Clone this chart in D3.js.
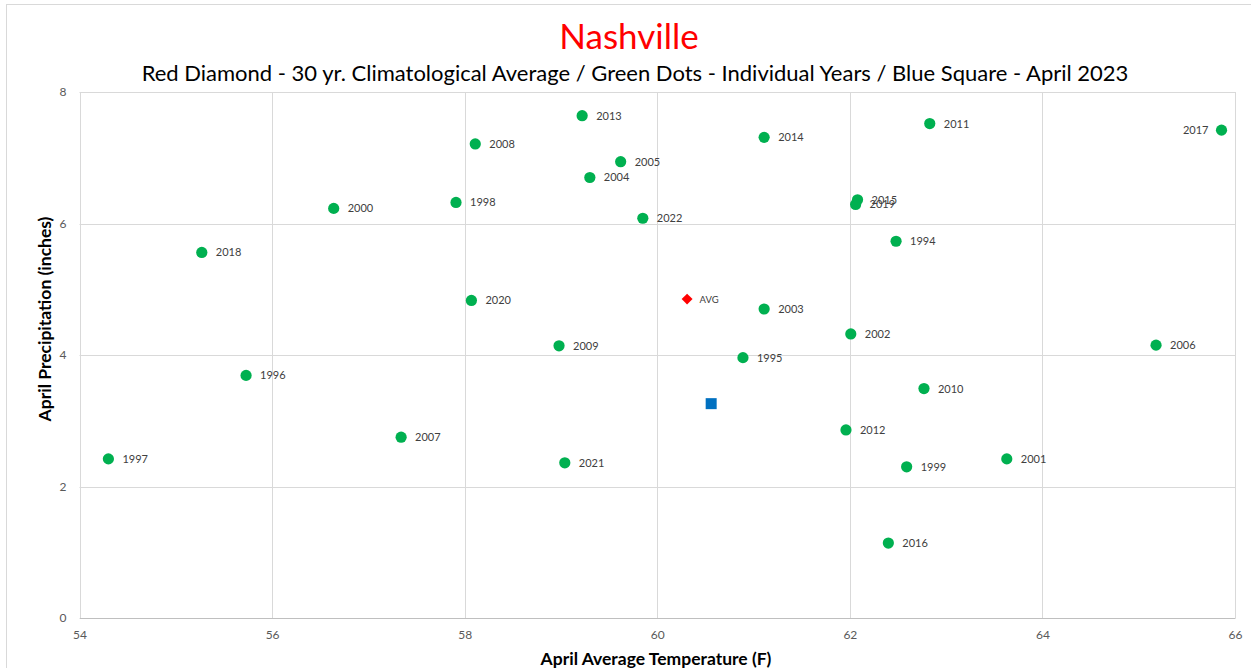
<!DOCTYPE html>
<html><head><meta charset="utf-8">
<script src="https://cdn.jsdelivr.net/npm/d3@7"></script>
<style>
html,body{margin:0;padding:0;background:#fff;}
svg{display:block;font-family:Lato,"Open Sans",sans-serif;}
</style></head>
<body><svg id="c" width="1251" height="668"></svg>
<script>
const years = [1994,1995,1996,1997,1998,1999,2000,2001,2002,2003,2004,2005,2006,2007,2008,2009,2010,2011,2012,2013,2014,2015,2016,2017,2018,2019,2020,2021,2022];
const temps = [62.48,60.89,55.73,54.30,57.91,62.59,56.64,63.63,62.01,61.11,59.30,59.62,65.18,57.34,58.11,58.98,62.77,62.83,61.96,59.22,61.11,62.08,62.40,65.86,55.27,62.06,58.07,59.04,59.85];
const precip = [5.73,3.96,3.69,2.42,6.32,2.30,6.23,2.42,4.32,4.70,6.70,6.94,4.15,2.75,7.21,4.14,3.49,7.52,2.86,7.64,7.31,6.36,1.14,7.42,5.56,6.29,4.83,2.36,6.08];
const avgPoint = {label:"AVG", temp:60.31, precip:4.85};
const currentPoint = {label:"April 2023", temp:60.56, precip:3.26};
const xTicks = [54,56,58,60,62,64,66];
const yTicks = [0,2,4,6,8];
const leftLabelYears = [2017];

const svg = d3.select("#c");
const L=79.5, R=1235, T=92, B=618;
const x = d3.scaleLinear().domain([54,66]).range([L,R]);
const y = d3.scaleLinear().domain([0,8]).range([B,T]);

// outer border
svg.append("rect").attr("x",6.5).attr("y",4.5).attr("width",1260).attr("height",700)
  .attr("fill","none").attr("stroke","#d9d9d9").attr("stroke-width",1);

// gridlines
const g = svg.append("g");
g.selectAll("line.vx").data(xTicks).join("line")
  .attr("x1",d=>Math.round(x(d))+0.5).attr("x2",d=>Math.round(x(d))+0.5)
  .attr("y1",T).attr("y2",B).attr("stroke","#d9d9d9").attr("stroke-width",1);
g.selectAll("line.hy").data(yTicks).join("line")
  .attr("y1",d=>Math.round(y(d))+0.5).attr("y2",d=>Math.round(y(d))+0.5)
  .attr("x1",L).attr("x2",R).attr("stroke","#d9d9d9").attr("stroke-width",1);

// axes via d3
const xAxis = svg.append("g").attr("transform",`translate(0,${B})`)
  .call(d3.axisBottom(x).tickValues(xTicks).tickSize(0).tickPadding(12));
xAxis.select(".domain").attr("stroke","#bfbfbf");
xAxis.selectAll("text").attr("fill","#595959").style("font-size","12px").style("font-family","Lato,sans-serif");
const yAxis = svg.append("g").attr("transform",`translate(${L},0)`)
  .call(d3.axisLeft(y).tickValues(yTicks).tickSize(0).tickPadding(13));
yAxis.select(".domain").remove();
yAxis.selectAll("text").attr("fill","#595959").style("font-size","12px").style("font-family","Lato,sans-serif");

// titles
svg.append("text").attr("x",629).attr("y",49).attr("text-anchor","middle")
  .attr("fill","#ff0000").style("font-size","35px").text("Nashville");
svg.append("text").attr("x",635).attr("y",81).attr("text-anchor","middle")
  .attr("fill","#000").style("font-size","22px")
  .text("Red Diamond - 30 yr. Climatological Average / Green Dots - Individual Years / Blue Square - April 2023");
svg.append("text").attr("x",656).attr("y",665).attr("text-anchor","middle")
  .attr("fill","#000").style("font-size","17.5px").style("font-weight","bold")
  .text("April Average Temperature  (F)");
svg.append("text").attr("transform","translate(51,319) rotate(-90)").attr("text-anchor","middle")
  .attr("fill","#000").style("font-size","17.5px").style("font-weight","bold")
  .text("April Precipitation  (inches)");

// data
const pts = years.map((yr,i)=>({year:yr,t:temps[i],p:precip[i]}));
svg.append("g").selectAll("circle").data(pts).join("circle")
  .attr("cx",d=>x(d.t)).attr("cy",d=>y(d.p)).attr("r",5.6).attr("fill","#00b050");
svg.append("g").selectAll("text").data(pts).join("text")
  .attr("x",d=>leftLabelYears.includes(d.year)? x(d.t)-13 : x(d.t)+14)
  .attr("y",d=>y(d.p)+4)
  .attr("text-anchor",d=>leftLabelYears.includes(d.year)?"end":"start")
  .attr("fill","#404040").style("font-size","11px").text(d=>d.year);

// avg diamond
svg.append("path").attr("d",d3.symbol(d3.symbolSquare,60)())
  .attr("transform",`translate(${x(avgPoint.temp)},${y(avgPoint.precip)}) rotate(45)`)
  .attr("fill","#ff0000");
svg.append("text").attr("x",x(avgPoint.temp)+12.5).attr("y",y(avgPoint.precip)+3.5)
  .attr("fill","#404040").style("font-size","9.5px").text(avgPoint.label);

// current square
svg.append("path").attr("d",d3.symbol(d3.symbolSquare,121)())
  .attr("transform",`translate(${x(currentPoint.temp)},${y(currentPoint.precip)})`)
  .attr("fill","#0070c0");
</script></body></html>
